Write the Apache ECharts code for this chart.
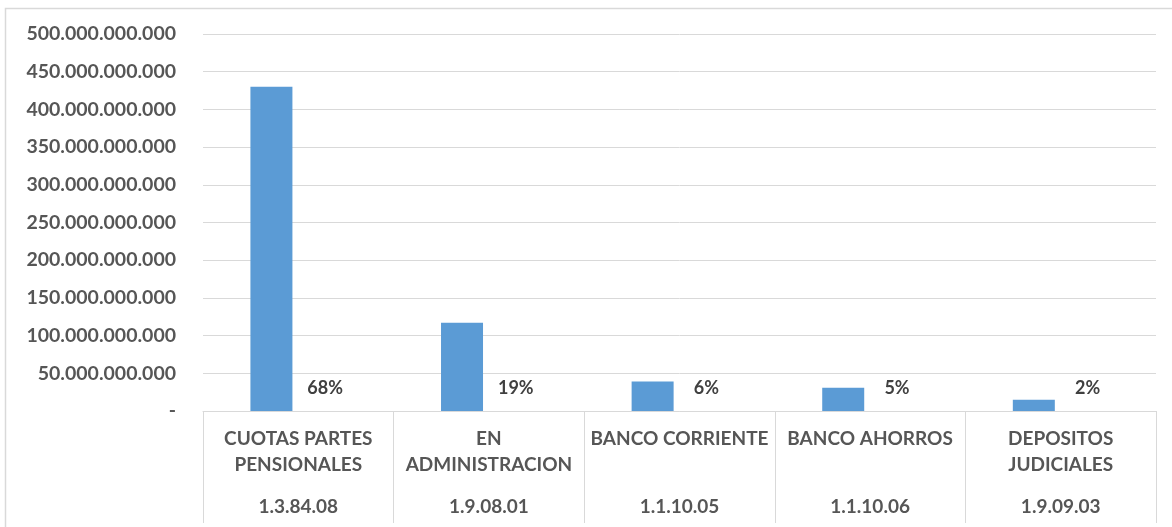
<!DOCTYPE html>
<html>
<head>
<meta charset="utf-8">
<script src="https://cdn.jsdelivr.net/npm/echarts@6/dist/echarts.min.js"></script>
<style>
html,body{margin:0;padding:0;background:#fff;}
#chart{width:1172px;height:527px;}
</style>
</head>
<body>
<div id="chart"></div>
<script>
var categories = ['CUOTAS PARTES\nPENSIONALES', 'EN\nADMINISTRACION', 'BANCO CORRIENTE', 'BANCO AHORROS', 'DEPOSITOS\nJUDICIALES'];
var codes = ['1.3.84.08', '1.9.08.01', '1.1.10.05', '1.1.10.06', '1.9.09.03'];
var amounts = [430000000000, 117000000000, 39000000000, 31000000000, 15000000000];
var percents = [68, 19, 6, 5, 2];

function fmt(v) {
  if (v === 0) return '-';
  return String(Math.round(v)).replace(/\B(?=(\d{3})+(?!\d))/g, '.');
}

var chart = echarts.init(document.getElementById('chart'));
var font = 'Lato';
chart.setOption({
  animation: false,
  graphic: [{
    type: 'rect',
    shape: {x: 5.5, y: 8.5, width: 1200, height: 600},
    style: {fill: 'none', stroke: '#d9d9d9', lineWidth: 1.5},
    silent: true
  }],
  grid: {left: 203, right: 16, top: 34, bottom: 116, containLabel: false},
  xAxis: [{
    type: 'category',
    data: categories,
    position: 'bottom',
    axisLine: {show: true, lineStyle: {color: '#d9d9d9', width: 1}},
    axisTick: {show: true, length: 112, interval: 0, lineStyle: {color: '#d9d9d9', width: 1}},
    axisLabel: {
      interval: 0, margin: 15, color: '#565656', fontFamily: font, fontWeight: 'bold',
      fontSize: 19, lineHeight: 26, align: 'center', verticalAlign: 'top'
    }
  }, {
    type: 'category',
    data: codes,
    position: 'bottom',
    axisLine: {show: false},
    axisTick: {show: false},
    axisLabel: {
      interval: 0, margin: 83, color: '#565656', fontFamily: font, fontWeight: 'bold',
      fontSize: 19, lineHeight: 26, align: 'center', verticalAlign: 'top'
    }
  }],
  yAxis: {
    type: 'value',
    min: 0, max: 500000000000, interval: 50000000000,
    axisLine: {show: false},
    axisTick: {show: false},
    splitLine: {lineStyle: {color: '#d9d9d9', width: 1}},
    axisLabel: {
      margin: 27, color: '#565656', fontFamily: font, fontWeight: 'bold', fontSize: 19.5,
      formatter: fmt
    }
  },
  series: [{
    type: 'bar',
    data: amounts,
    xAxisIndex: 0,
    barWidth: 42,
    barGap: '28%',
    itemStyle: {color: '#5B9BD5'}
  }, {
    type: 'bar',
    data: percents,
    xAxisIndex: 0,
    barWidth: 42,
    itemStyle: {color: 'rgba(0,0,0,0)'},
    label: {
      show: true, position: 'top', distance: 14,
      formatter: function (p) { return p.value + '%'; },
      color: '#404040', fontFamily: font, fontWeight: 'bold', fontSize: 18
    }
  }]
});
</script>
</body>
</html>
